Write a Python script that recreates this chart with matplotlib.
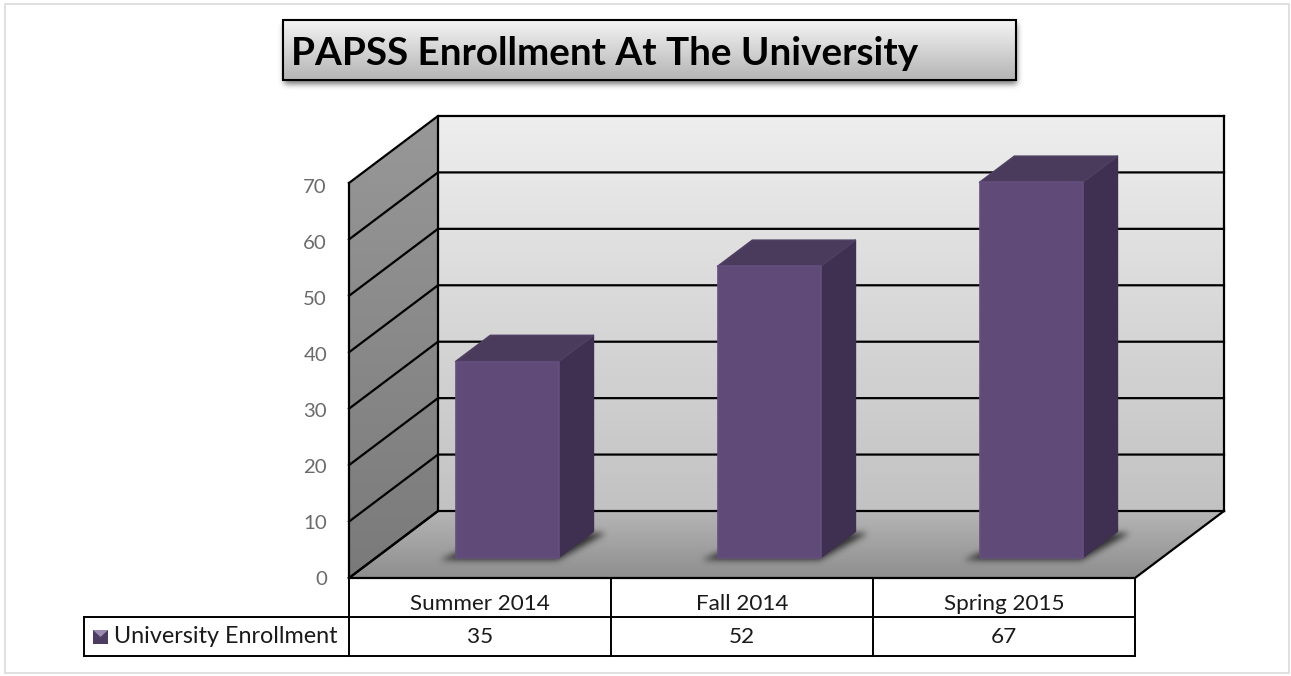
import matplotlib
matplotlib.use('Agg')
import matplotlib.pyplot as plt
from matplotlib.patches import Polygon, Rectangle
from matplotlib.path import Path
import numpy as np

plt.rcParams['font.family'] = ['Lato', 'DejaVu Sans']

categories = ['Summer 2014', 'Fall 2014', 'Spring 2015']
values = [35, 52, 67]
yticks = [0, 10, 20, 30, 40, 50, 60, 70]
series_name = 'University Enrollment'
title = 'PAPSS Enrollment At The University'

W, H = 1291, 676
# pixel geometry of the front plane of the chart
X0, Y0 = 349, 578
CAT_W = 262.0
VAL_H = 5.643
DEPTH_X, DEPTH_Y = 89 / CAT_W, 67 / VAL_H
BAR_SCALE = 5.6 / VAL_H  # bars and tick labels sit a bit tighter than the gridlines

fig = plt.figure(figsize=(W / 100, H / 100), dpi=100)
ax = fig.add_axes([0, 0, 1, 1])
ax.set_xlim(-X0 / CAT_W, (W - X0) / CAT_W)
ax.set_ylim((Y0 - H) / VAL_H, Y0 / VAL_H)
ax.axis('off')


def P(cat, val, depth=0.0):
    return cat + depth * DEPTH_X, val + depth * DEPTH_Y


def px(n):
    # pixels to category units
    return n / CAT_W


def py(n):
    # pixels to value units
    return n / VAL_H


def gradient_poly(points, top, bottom, z=1):
    pts = np.array(points)
    c0, c1 = np.array(matplotlib.colors.to_rgb(top)), np.array(matplotlib.colors.to_rgb(bottom))
    t = np.linspace(0, 1, 256)[:, None]
    img = (c0 * (1 - t) + c1 * t)[:, None, :]
    ext = (pts[:, 0].min(), pts[:, 0].max(), pts[:, 1].min(), pts[:, 1].max())
    im = ax.imshow(img, extent=ext, origin='upper', aspect='auto', zorder=z, interpolation='bilinear')
    patch = Polygon(pts, closed=True, transform=ax.transData, facecolor='none', edgecolor='none')
    ax.add_patch(patch)
    im.set_clip_path(patch)


def blurred_shadow(polys, sigma, strength, z):
    # rasterise the polygons on the pixel grid and blur them
    xs = ax.get_xlim()[0] + (np.arange(W) + 0.5) / CAT_W
    ys = ax.get_ylim()[1] - (np.arange(H) + 0.5) / VAL_H
    gx, gy = np.meshgrid(xs, ys)
    grid = np.column_stack([gx.ravel(), gy.ravel()])
    mask = np.zeros(gx.shape)
    for poly in polys:
        mask += Path(poly).contains_points(grid).reshape(gx.shape)
    r = int(sigma * 3)
    kernel = np.exp(-np.arange(-r, r + 1) ** 2 / (2 * sigma ** 2))
    kernel /= kernel.sum()
    mask = np.apply_along_axis(lambda m: np.convolve(m, kernel, mode='same'), 0, mask)
    mask = np.apply_along_axis(lambda m: np.convolve(m, kernel, mode='same'), 1, mask)
    rgba = np.zeros(mask.shape + (4,))
    rgba[..., 3] = np.clip(mask * strength, 0, 1)
    ax.imshow(rgba, extent=(*ax.get_xlim(), *ax.get_ylim()), origin='upper', aspect='auto',
              zorder=z, interpolation='bilinear')


n = len(categories)
top_val = yticks[-1]

# outer frame
xl, xr = ax.get_xlim()
yb, yt = ax.get_ylim()
ax.add_patch(Rectangle((xl + px(5), yb + py(3.5)), px(1284), py(669), facecolor='white',
                       edgecolor='#e0e0e0', linewidth=1.4, zorder=0))

# walls and floor
gradient_poly([P(0, 0, 1), P(n, 0, 1), P(n, top_val, 1), P(0, top_val, 1)], '#eeeeee', '#c2c2c2')
gradient_poly([P(0, 0), P(0, 0, 1), P(0, top_val, 1), P(0, top_val)], '#989898', '#7a7a7a')
gradient_poly([P(0, 0), P(n, 0), P(n, 0, 1), P(0, 0, 1)], '#b6b6b6', '#8e8e8e')

lw = 1.6
for v in yticks:
    a, b, c = P(0, v), P(0, v, 1), P(n, v, 1)
    ax.plot([a[0], b[0], c[0]], [a[1], b[1], c[1]], color='black', lw=lw, zorder=2,
            solid_joinstyle='miter')
    ax.text(xl + px(327), v * BAR_SCALE - py(7), str(v), ha='right', va='baseline', fontsize=14.7,
            color='#6b6b6b', zorder=5)

# wall and floor outlines
for path in ([P(0, 0), P(0, top_val)],
             [P(0, 0, 1), P(0, top_val, 1)],
             [P(n, 0, 1), P(n, top_val, 1)],
             [P(0, 0), P(n, 0), P(n, 0, 1)],
             [P(0, 0), P(0, 0, 1)]):
    arr = np.array(path)
    ax.plot(arr[:, 0], arr[:, 1], color='black', lw=lw, zorder=2)

# bars
bar_d0, bar_d1 = 0.305, 0.695
bar_half = px(51.5)
footprints = []
for i, v in enumerate(values):
    c = i + 0.5
    left, right = c - bar_half, c + bar_half
    footprints.append(np.array([P(left - px(13), 0, bar_d0 - 0.04), P(right + px(2), 0, bar_d0 - 0.04),
                                P(right + px(15), 0, bar_d1 - 0.02), P(left + px(15), 0, bar_d1 - 0.02)]))
blurred_shadow(footprints, 3.2, 0.7, 3)

for i, v in enumerate(values):
    c = i + 0.5
    left, right = c - bar_half, c + bar_half
    h = v * BAR_SCALE
    front = [P(left, 0, bar_d0), P(right, 0, bar_d0), P(right, h, bar_d0), P(left, h, bar_d0)]
    side = [P(right, 0, bar_d0), P(right, 0, bar_d1), P(right, h, bar_d1), P(right, h, bar_d0)]
    top = [P(left, h, bar_d0), P(right, h, bar_d0), P(right, h, bar_d1), P(left, h, bar_d1)]
    ax.add_patch(Polygon(side, facecolor='#3f2f50', edgecolor='#3f2f50', lw=1.2, joinstyle='round', zorder=4))
    ax.add_patch(Polygon(top, facecolor='#4a3a5c', edgecolor='#4f3f62', lw=1.2, joinstyle='round', zorder=4))
    ax.add_patch(Polygon(front, facecolor='#5f4a78', edgecolor='#644f7d', lw=1.2, joinstyle='round', zorder=4))

# data table
row1, row2 = -py(39), -py(78)
tbl_left = -px(265)
for c in range(n + 1):
    ax.plot([c, c], [0, row2], color='black', lw=1.4, zorder=5)
ax.plot([tbl_left, n], [row1, row1], color='black', lw=1.4, zorder=5)
ax.plot([tbl_left, n], [row2, row2], color='black', lw=1.4, zorder=5)
ax.plot([tbl_left, tbl_left], [row1, row2], color='black', lw=1.4, zorder=5)
for i, (name, v) in enumerate(zip(categories, values)):
    ax.text(i + 0.5, -py(32), name, ha='center', va='baseline', fontsize=16.2, color='#1a1a1a', zorder=6)
    ax.text(i + 0.5, -py(65), str(v), ha='center', va='baseline', fontsize=16.2, color='#1a1a1a', zorder=6)
ax.text(-px(235), -py(65), series_name, ha='left', va='baseline', fontsize=16.8, color='#1a1a1a', zorder=6)

# legend key
kx0, kx1 = -px(256), -px(241)
ky0, ky1 = -py(66), -py(52)
ax.add_patch(Polygon([(kx0, ky0), (kx1, ky0), (kx1, ky1), (kx0, ky1)], facecolor='#4d3c61', zorder=6))
ax.add_patch(Polygon([(kx0, ky1), (kx1, ky1), ((kx0 + kx1) / 2, (ky0 + ky1) / 2)], facecolor='#9a8ab0', zorder=6))

# title box
bx0, bx1 = xl + px(283), xl + px(1016)
by0, by1 = yt - py(80), yt - py(20)
box = [(bx0, by0), (bx1, by0), (bx1, by1), (bx0, by1)]
blurred_shadow([np.array(box) + [px(1), -py(4)]], 3, 0.55, 6)
gradient_poly(box, '#f4f4f4', '#b4b4b4', z=7)
ax.add_patch(Polygon(box, facecolor='none', edgecolor='black', lw=1.5, zorder=8))
ax.text(xl + px(291), yt - py(65), title, ha='left', va='baseline', fontsize=27.85, fontweight='bold',
        color='black', zorder=9)

ax.set_xlim(xl, xr)
ax.set_ylim(yb, yt)
fig.savefig('out.png', dpi=100)
